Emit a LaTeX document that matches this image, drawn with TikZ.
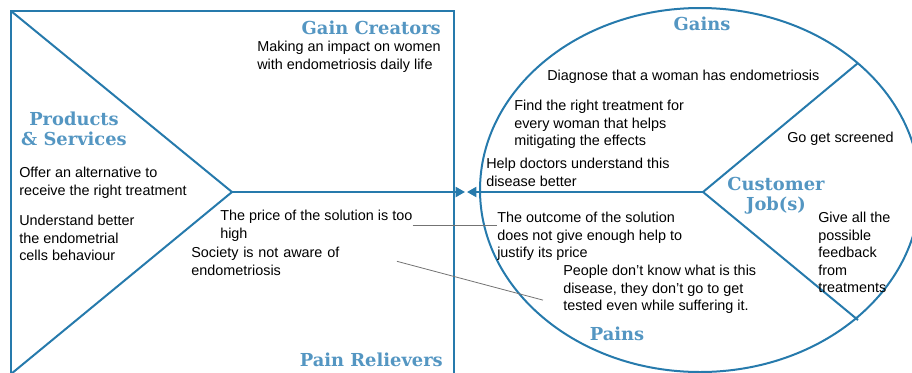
\documentclass[tikz,border=0pt]{standalone}
\usepackage{fontspec}
\setmainfont{Liberation Sans}
\newfontfamily\titlefont{DejaVu Serif}
\usetikzlibrary{arrows.meta}
\definecolor{canvasblue}{RGB}{38,122,172}
\definecolor{titleblue}{RGB}{84,150,194}

\begin{document}
\begin{tikzpicture}[
    x=0.75pt, y=-0.75pt,
    every node/.style={font=\fontsize{10.8}{13.1}\selectfont, inner sep=0pt},
    note/.style={anchor=north west, align=left},
    heading/.style={font=\titlefont\bfseries\fontsize{13.4}{15}\selectfont, text=titleblue, align=center},
    edge/.style={draw=canvasblue, line width=1.5pt},
    link/.style={draw=black!55, line width=0.6pt},
    tip/.style={-{Triangle[length=7pt, width=7.5pt]}}
]
\useasboundingbox (0,0) rectangle (912,372);

% Draw the value map (square)
\coordinate (sq nw) at (11,11);
\coordinate (sq sw) at (11,374);
\coordinate (apex) at (232,192);
\coordinate (sq out) at (465,192);
\draw[edge] (11,11) rectangle (454,374);
\draw[edge] (sq nw) -- (apex) -- (sq sw);
\draw[edge, tip] (apex) -- (sq out);

% Draw the customer profile (circle)
\coordinate (hub) at (703,192);
\coordinate (rim ne) at (858,63);
\coordinate (rim se) at (858,320);
\coordinate (circ in) at (467,192);
\draw[edge] (700,190) ellipse [x radius=220, y radius=182];
\draw[edge] (rim ne) -- (hub) -- (rim se);
\draw[edge, tip] (hub) -- (circ in);

% Section titles
\node[heading, anchor=north east] (gain creators) at (441,21) {Gain Creators};
\node[heading] (products) at (74,129) {Products\\\& Services};
\node[heading, anchor=south east] (pain relievers) at (443,367) {Pain Relievers};
\node[heading] (gains) at (702,24) {Gains};
\node[heading] (jobs) at (776,196) {Customer\\Job(s)};
\node[heading] (pains) at (617,334) {Pains};

% Value map texts
\node[note] (creator) at (257,41) {Making an impact on women\\with endometriosis daily life};
\node[note] (offer) at (19,167) {Offer an alternative to\\receive the right treatment};
\node[note] (understand) at (19,215) {Understand better\\the endometrial\\cells behaviour};
\node[note] (price) at (220,210) {The price of the solution is too\\high};
\node[note, text width=154pt] (society) at (191,247) {Society is not aware of\\endometriosis};

% Customer profile texts
\node[note] (diagnose) at (547,70) {Diagnose that a woman has endometriosis};
\node[note] (treatment) at (514,100) {Find the right treatment for\\every woman that helps\\mitigating the effects};
\node[note] (doctors) at (486,158) {Help doctors understand this\\disease better};
\node[note] (screened) at (787,132) {Go get screened};
\node[note] (feedback) at (818,212) {Give all the\\possible\\feedback\\from\\treatments};
\node[note] (outcome) at (497,212) {The outcome of the solution\\does not give enough help to\\justify its price};
\node[note] (people) at (563,265) {People don’t know what is this\\disease, they don’t go to get\\tested even while suffering it.};

% Links between relievers and pains
\draw[link] (price.east) -- (outcome.west |- price.east);
\draw[link] (society.east) -- ([xshift=-15pt, yshift=-8pt]people.west);

\end{tikzpicture}
\end{document}
